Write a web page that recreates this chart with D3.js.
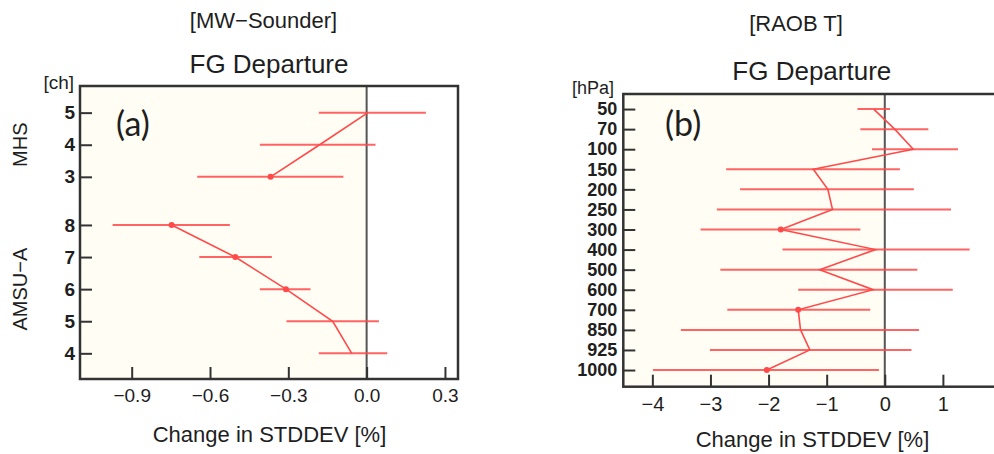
<!DOCTYPE html>
<html>
<head>
<meta charset="utf-8">
<script src="https://cdn.jsdelivr.net/npm/d3@7"></script>
<style>
  body { margin: 0; background: #fff; }
  text { font-family: "Liberation Sans", Arial, sans-serif; fill: #1e1e1e; }
</style>
</head>
<body>
<svg id="chart" width="994" height="454"></svg>
<script>
// panel (a): MW-Sounder, change in FG departure stddev per channel
var mhsChannels = ["5", "4", "3"]
var mhsMean = [0.005, -0.18, -0.368]
var mhsLow = [-0.183, -0.409, -0.649]
var mhsHigh = [0.227, 0.034, -0.089]

var amsuChannels = ["8", "7", "6", "5", "4"]
var amsuMean = [-0.747, -0.503, -0.309, -0.13, -0.057]
var amsuLow = [-0.973, -0.641, -0.409, -0.307, -0.183]
var amsuHigh = [-0.524, -0.363, -0.215, 0.047, 0.079]

var ticksA = [-0.9, -0.6, -0.3, 0.0, 0.3]

// panel (b): RAOB T per pressure level
var levels = ["50", "70", "100", "150", "200", "250", "300", "400", "500", "600", "700", "850", "925", "1000"]
var raobMean = [-0.19, 0.17, 0.49, -1.23, -0.98, -0.90, -1.79, -0.16, -1.12, -0.20, -1.49, -1.45, -1.29, -2.03]
var raobLow = [-0.47, -0.42, -0.22, -2.73, -2.49, -2.89, -3.17, -1.76, -2.83, -1.49, -2.71, -3.51, -3.01, -3.99]
var raobHigh = [0.09, 0.75, 1.26, 0.26, 0.50, 1.14, -0.42, 1.46, 0.56, 1.17, -0.25, 0.59, 0.46, -0.10]

var ticksB = [-4, -3, -2, -1, 0, 1]

var red = "#ff4a4a"
var svg = d3.select("#chart")

function makeRows(labels, mean, low, high, offset) {
  return labels.map(function(l, i) {
    return { label: l, slot: offset + i, mean: mean[i], lo: low[i], hi: high[i] }
  })
}

function drawPanel(p) {
  var g = svg.append("g")
  var x = p.x, y = p.y
  var x0 = x.range()[0], x1 = x.range()[1]
  var y0 = y.range()[0], y1 = y.range()[1]

  // plot area: cream left of zero, white right of it
  g.append("rect").attr("x", x0).attr("y", y0).attr("width", x(0) - x0).attr("height", y1 - y0)
    .attr("fill", "#fffdf4")
  g.append("line").attr("x1", x(0)).attr("x2", x(0)).attr("y1", y0).attr("y2", y1)
    .attr("stroke", "#555").attr("stroke-width", 2)

  var all = [].concat.apply([], p.groups)

  g.selectAll(".err").data(all).enter().append("line")
    .attr("class", "err")
    .attr("x1", function(d) { return x(d.lo) })
    .attr("x2", function(d) { return x(d.hi) })
    .attr("y1", function(d) { return y(d.slot) })
    .attr("y2", function(d) { return y(d.slot) })
    .attr("stroke", red).attr("stroke-width", 2).attr("opacity", 0.85)

  var line = d3.line().x(function(d) { return x(d.mean) }).y(function(d) { return y(d.slot) })
  p.groups.forEach(function(rows) {
    g.append("path").datum(rows).attr("d", line)
      .attr("fill", "none").attr("stroke", red).attr("stroke-width", 1.6)
  })

  g.selectAll(".dot").data(all.filter(function(d) { return d.hi < 0 })).enter().append("circle")
    .attr("class", "dot")
    .attr("cx", function(d) { return x(d.mean) })
    .attr("cy", function(d) { return y(d.slot) })
    .attr("r", 3).attr("fill", red)

  // axes with inward ticks
  var xa = g.append("g").attr("transform", "translate(0," + y1 + ")")
    .call(d3.axisBottom(x).tickValues(p.xTicks).tickFormat(p.xFormat).tickSizeInner(-12).tickSizeOuter(0).tickPadding(p.xPad))
  xa.select(".domain").remove()
  xa.selectAll("line").attr("stroke", "#333").attr("stroke-width", 2)
  xa.selectAll("text").attr("font-size", p.xFont).attr("fill", "#1e1e1e")

  var ya = g.append("g").attr("transform", "translate(" + x0 + ",0)")
    .call(d3.axisLeft(y).tickValues(all.map(function(d) { return d.slot }))
      .tickFormat(function(s) { return all.find(function(d) { return d.slot == s }).label })
      .tickSizeInner(-12).tickSizeOuter(0).tickPadding(p.yPad))
  ya.select(".domain").remove()
  ya.selectAll("line").attr("stroke", "#333").attr("stroke-width", 2)
  ya.selectAll("text").attr("font-size", p.yFont).attr("font-weight", "bold").attr("fill", "#1e1e1e")

  g.append("rect").attr("x", x0).attr("y", y0).attr("width", x1 - x0).attr("height", y1 - y0)
    .attr("fill", "none").attr("stroke", "#333").attr("stroke-width", 2.5)
}

// panel (a)
var mhsRows = makeRows(mhsChannels, mhsMean, mhsLow, mhsHigh, 0)
var amsuRows = makeRows(amsuChannels, amsuMean, amsuLow, amsuHigh, mhsChannels.length + 0.5)

var xA = d3.scaleLinear().domain([-1.098, 0.35]).range([80, 458])
var yA = d3.scaleLinear().domain([-0.83, 8.3]).range([86, 379])

drawPanel({
  x: xA, y: yA, groups: [mhsRows, amsuRows],
  xTicks: ticksA, xFormat: d3.format(".1f"), xPad: 10, xFont: 19,
  yPad: 5, yFont: 19
})

// panel (b)
var raobRows = makeRows(levels, raobMean, raobLow, raobHigh, 0)
var xB = d3.scaleLinear().domain([-4.5, 2.0]).range([623.3, 1001])
var yB = d3.scaleLinear().domain([-0.75, 13.83]).range([94, 386.7])

drawPanel({
  x: xB, y: yB, groups: [raobRows],
  xTicks: ticksB, xFormat: d3.format("d"), xPad: 10, xFont: 20,
  yPad: 6, yFont: 18
})

// titles and labels
function label(txt, x, y, size, anchor) {
  return svg.append("text").attr("x", x).attr("y", y).attr("font-size", size)
    .attr("text-anchor", anchor || "middle").text(txt)
}

label("[MW\u2212Sounder]", 263.5, 28, 22)
label("FG Departure", 269, 73, 26)
label("Change in STDDEV [%]", 269.5, 442, 22)
label("[ch]", 74, 89, 19, "end")
label("(a)", 116, 136, 34, "start").style("font-family", "Lato, 'Open Sans', sans-serif")

svg.append("text").attr("transform", "translate(27," + ((yA(0) + yA(2)) / 2) + ") rotate(-90)")
  .attr("text-anchor", "middle").attr("font-size", 20).text("MHS")
svg.append("text").attr("transform", "translate(27," + ((yA(3.5) + yA(7.5)) / 2) + ") rotate(-90)")
  .attr("text-anchor", "middle").attr("font-size", 20).text("AMSU\u2212A")

label("[RAOB T]", 796, 31, 22)
label("FG Departure", 811.8, 80, 26)
label("Change in STDDEV [%]", 812.5, 447, 22)
label("[hPa]", 614, 94, 18, "end")
label("(b)", 665, 136, 34, "start").style("font-family", "Lato, 'Open Sans', sans-serif")
</script>
</body>
</html>
